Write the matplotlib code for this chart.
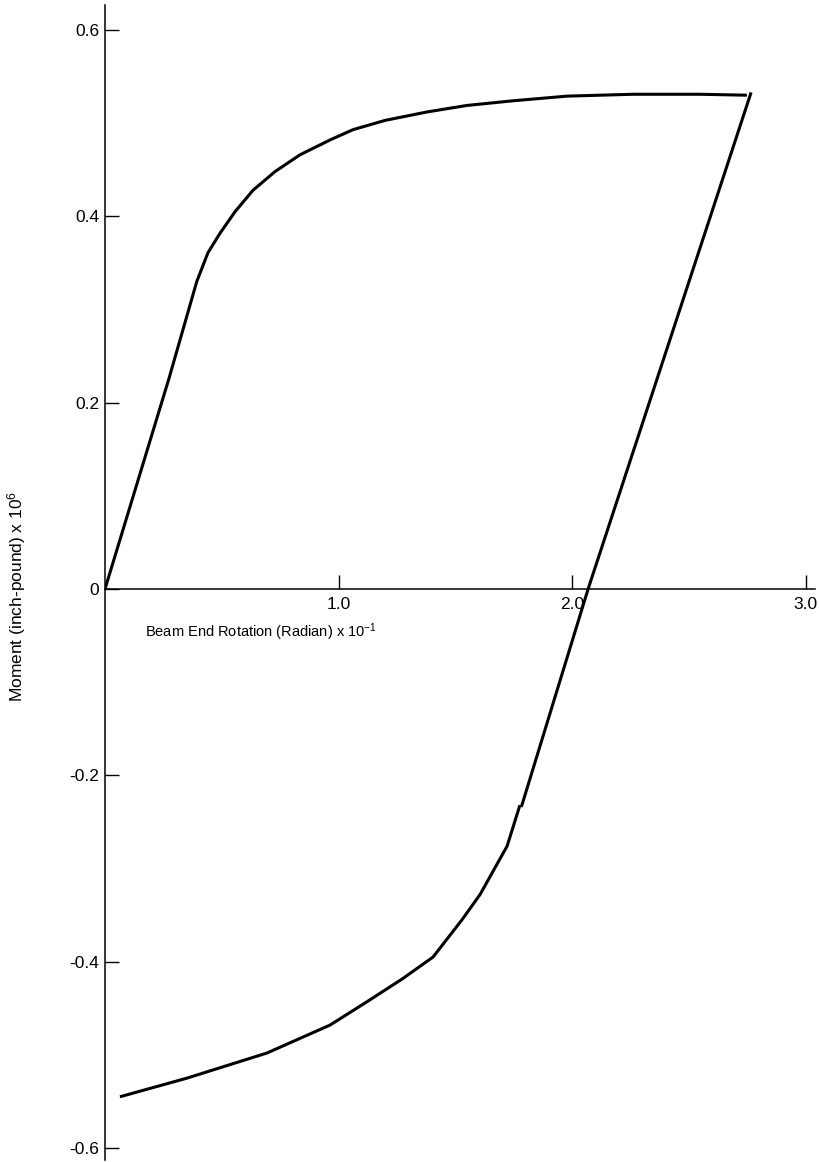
import matplotlib
matplotlib.use("Agg")
import matplotlib.pyplot as plt
from matplotlib.ticker import FixedLocator, FixedFormatter

plt.rcParams['font.family'] = ['Liberation Sans', 'DejaVu Sans']
plt.rcParams['mathtext.default'] = 'regular'

# Loading branch (rotation x 10^-1 rad, moment x 10^6 in-lb)
load_x = [0.0, 0.274, 0.393, 0.441, 0.493, 0.557, 0.634, 0.728, 0.835, 0.964,
          1.062, 1.200, 1.379, 1.550, 1.747, 1.979, 2.261, 2.548, 2.749]
load_y = [0.0, 0.226, 0.330, 0.361, 0.382, 0.405, 0.428, 0.448, 0.466, 0.482,
          0.493, 0.503, 0.512, 0.519, 0.524, 0.529, 0.531, 0.531, 0.530]

# Unloading / reverse loading branch (upper straight part)
unload_x = [2.767, 2.069, 1.783]
unload_y = [0.533, 0.0, -0.234]

# Reverse branch after small kink
rev_x = [1.777, 1.722, 1.606, 1.529, 1.405, 1.276, 1.122, 0.964, 0.694, 0.351, 0.064]
rev_y = [-0.232, -0.276, -0.328, -0.355, -0.395, -0.418, -0.443, -0.468, -0.498, -0.525, -0.545]

y_ticks = [0.6, 0.4, 0.2, 0.0, -0.2, -0.4, -0.6]
y_labels = ['0.6', '0.4', '0.2', '0', '-0.2', '-0.4', '-0.6']
x_ticks = [1.0, 2.0, 3.0]
x_labels = ['1.0', '2.0', '3.0']

W, H = 820, 1162
fig = plt.figure(figsize=(W / 100, H / 100), dpi=100)
x0_px, x_scale = 105.0, 233.5
y0_px, y_scale = 589.0, 931.7
xmin, xmax = 0.0, 3.04
ymin, ymax = -0.613, 0.627
left = x0_px / W
width = (xmax - xmin) * x_scale / W
top_px = y0_px - ymax * y_scale
bot_px = y0_px - ymin * y_scale
ax = fig.add_axes([left, 1 - bot_px / H, width, (bot_px - top_px) / H])
ax.set_xlim(xmin, xmax)
ax.set_ylim(ymin, ymax)

lw = 2.2
for xs, ys in [(load_x, load_y), (unload_x, unload_y), (rev_x, rev_y)]:
    ax.plot(xs, ys, color='black', lw=lw, solid_joinstyle='round', solid_capstyle='butt')

for s in ['top', 'right']:
    ax.spines[s].set_visible(False)
ax.spines['bottom'].set_position(('data', 0))
ax.spines['left'].set_linewidth(1.1)
ax.spines['bottom'].set_linewidth(1.1)

ax.yaxis.set_major_locator(FixedLocator(y_ticks))
ax.yaxis.set_major_formatter(FixedFormatter(y_labels))
ax.xaxis.set_major_locator(FixedLocator(x_ticks))
ax.xaxis.set_major_formatter(FixedFormatter(x_labels))
ax.tick_params(axis='both', direction='in', length=10, width=1.0, labelsize=12.5, colors='black')
ax.tick_params(axis='y', pad=4)
ax.tick_params(axis='x', pad=6)

ax.text(0.171, -0.046, 'Beam End Rotation (Radian) x 10$^{-1}$', fontsize=10.5,
        ha='left', va='center')
fig.text(17 / W, 1 - 596 / H, 'Moment (inch-pound) x 10$^{6}$', fontsize=12.5,
         rotation=90, ha='center', va='center')

fig.savefig('out.png', dpi=100)
